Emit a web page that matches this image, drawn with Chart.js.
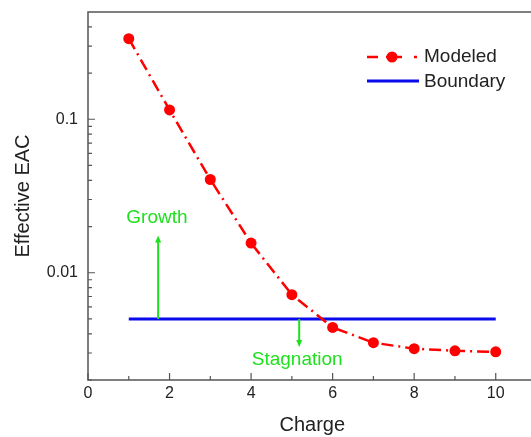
<!DOCTYPE html>
<html>
<head>
<meta charset="utf-8">
<script src="https://cdn.jsdelivr.net/npm/chart.js@4.4.1/dist/chart.umd.min.js"></script>
<style>
html, body { margin: 0; padding: 0; overflow: hidden; background: #fff; }
canvas { display: block; }
</style>
</head>
<body>
<canvas id="eacChart" width="542" height="437"></canvas>
<script>
// Modeled effective EAC per charge, with the boundary level
const charges = [1, 2, 3, 4, 5, 6, 7, 8, 9, 10];
const modeledEAC = [0.335, 0.115, 0.0405, 0.0156, 0.0072, 0.0044, 0.0035, 0.0032, 0.0031, 0.00305];
const boundaryX = [1, 10];
const boundaryEAC = [0.005, 0.005];

// axis ticks
const xTicks = [0, 2, 4, 6, 8, 10];
const xMinorTicks = [1, 3, 5, 7, 9];
const yTicks = [0.01, 0.1];
const yTickLabels = ['0.01', '0.1'];
const yMinorTicks = [0.002, 0.003, 0.004, 0.005, 0.006, 0.007, 0.008, 0.009,
                     0.02, 0.03, 0.04, 0.05, 0.06, 0.07, 0.08, 0.09,
                     0.2, 0.3, 0.4];

// arrow annotations
const arrowLabels = ['Growth', 'Stagnation'];
const arrowX = [1.72, 5.18];
const arrowFrom = [0.005, 0.005];
const arrowTo = [0.0175, 0.00328];
const labelX = [1.69, 5.13];
const labelY = [0.0229, 0.0027];

const green = '#1fe01f';
const axisColor = '#555';
const textColor = '#222';
const fontFamily = '"Liberation Sans", Arial, sans-serif';

function noPadding(s) {
    s.paddingTop = 0;
    s.paddingBottom = 0;
    s.paddingLeft = 0;
    s.paddingRight = 0;
}

const framePlugin = {
    id: 'frame',
    afterDatasetsDraw(chart) {
        const ctx = chart.ctx;
        const area = chart.chartArea;
        const xs = chart.scales.x;
        const ys = chart.scales.y;
        ctx.save();

        // arrows
        ctx.strokeStyle = green;
        ctx.fillStyle = green;
        ctx.lineWidth = 2;
        arrowX.forEach((ax, i) => {
            const px = xs.getPixelForValue(ax);
            const y0 = ys.getPixelForValue(arrowFrom[i]);
            const y1 = ys.getPixelForValue(arrowTo[i]);
            const dir = y1 < y0 ? -1 : 1;
            ctx.beginPath();
            ctx.moveTo(px, y0);
            ctx.lineTo(px, y1 - dir * 6);
            ctx.stroke();
            ctx.beginPath();
            ctx.moveTo(px, y1);
            ctx.lineTo(px - 3, y1 - dir * 7);
            ctx.lineTo(px + 3, y1 - dir * 7);
            ctx.closePath();
            ctx.fill();
        });
        ctx.font = '19px ' + fontFamily;
        ctx.textAlign = 'center';
        ctx.textBaseline = 'middle';
        arrowLabels.forEach((t, i) => {
            ctx.fillText(t, xs.getPixelForValue(labelX[i]), ys.getPixelForValue(labelY[i]));
        });

        // frame
        ctx.strokeStyle = axisColor;
        ctx.lineWidth = 1.5;
        ctx.beginPath();
        ctx.moveTo(area.right, area.top);
        ctx.lineTo(area.left, area.top);
        ctx.lineTo(area.left, area.bottom);
        ctx.lineTo(area.right, area.bottom);
        ctx.stroke();

        // inward ticks
        ctx.lineWidth = 1.2;
        ctx.beginPath();
        xTicks.forEach(v => {
            const p = xs.getPixelForValue(v);
            ctx.moveTo(p, area.bottom); ctx.lineTo(p, area.bottom - 7);
        });
        xMinorTicks.forEach(v => {
            const p = xs.getPixelForValue(v);
            ctx.moveTo(p, area.bottom); ctx.lineTo(p, area.bottom - 4);
        });
        yTicks.forEach(v => {
            const p = ys.getPixelForValue(v);
            ctx.moveTo(area.left, p); ctx.lineTo(area.left + 7, p);
        });
        yMinorTicks.forEach(v => {
            const p = ys.getPixelForValue(v);
            ctx.moveTo(area.left, p); ctx.lineTo(area.left + 4, p);
        });
        ctx.stroke();
        ctx.restore();
    },
    afterDraw(chart) {
        // legend
        const ctx = chart.ctx;
        const [modeled, boundary] = chart.data.datasets;
        ctx.save();
        ctx.strokeStyle = modeled.borderColor;
        ctx.lineWidth = modeled.borderWidth;
        ctx.setLineDash([11, 8, 16, 12, 3, 10]);
        ctx.beginPath();
        ctx.moveTo(367, 57); ctx.lineTo(419, 57);
        ctx.stroke();
        ctx.setLineDash([]);
        ctx.fillStyle = modeled.pointBackgroundColor;
        ctx.beginPath();
        ctx.arc(392, 57, modeled.pointRadius, 0, Math.PI * 2);
        ctx.fill();
        ctx.strokeStyle = boundary.borderColor;
        ctx.lineWidth = boundary.borderWidth;
        ctx.beginPath();
        ctx.moveTo(367, 81); ctx.lineTo(419, 81);
        ctx.stroke();
        ctx.fillStyle = textColor;
        ctx.font = '19px ' + fontFamily;
        ctx.textAlign = 'left';
        ctx.textBaseline = 'middle';
        ctx.fillText(modeled.label, 424, 57);
        ctx.fillText(boundary.label, 424, 82);
        ctx.restore();
    }
};

const ctx = document.getElementById('eacChart').getContext('2d');
const eacChart = new Chart(ctx, {
    type: 'line',
    data: {
        datasets: [{
            label: 'Modeled',
            data: charges.map((c, i) => ({ x: c, y: modeledEAC[i] })),
            borderColor: '#ff0000',
            borderWidth: 2.5,
            borderDash: [12, 5, 2, 5],
            pointRadius: 5.5,
            pointBackgroundColor: '#ff0000',
            pointBorderColor: '#ff0000',
            pointBorderWidth: 0,
            order: 1
        }, {
            label: 'Boundary',
            data: boundaryX.map((x, i) => ({ x: x, y: boundaryEAC[i] })),
            borderColor: '#0a0aee',
            borderWidth: 3,
            pointRadius: 0,
            order: 2
        }]
    },
    options: {
        responsive: false,
        animation: false,
        layout: { padding: { top: 12, left: 0, right: 0, bottom: 0 } },
        plugins: {
            legend: { display: false },
            tooltip: { enabled: false }
        },
        scales: {
            x: {
                type: 'linear',
                min: 0,
                max: 11,
                grid: { display: false, drawTicks: false },
                border: { display: false },
                afterBuildTicks: s => { s.ticks = xTicks.map(v => ({ value: v })); },
                afterFit: s => { s.height = 57; noPadding(s); },
                ticks: {
                    padding: 4,
                    color: textColor,
                    font: { family: fontFamily, size: 16 },
                    maxRotation: 0,
                    callback: v => String(v)
                },
                title: {
                    display: true,
                    text: 'Charge',
                    color: textColor,
                    font: { family: fontFamily, size: 20 },
                    padding: { top: 0, bottom: 0 }
                }
            },
            y: {
                type: 'logarithmic',
                min: 0.002,
                max: 0.5,
                grid: { display: false, drawTicks: false },
                border: { display: false },
                afterBuildTicks: s => { s.ticks = yTicks.map(v => ({ value: v })); },
                afterFit: s => { s.width = 88; noPadding(s); },
                ticks: {
                    padding: 10,
                    color: textColor,
                    font: { family: fontFamily, size: 16 },
                    callback: (v, i) => yTickLabels[i]
                },
                title: {
                    display: true,
                    text: 'Effective EAC',
                    color: textColor,
                    font: { family: fontFamily, size: 20 },
                    padding: { top: 11, bottom: 0 }
                }
            }
        }
    },
    plugins: [framePlugin]
});
</script>
</body>
</html>
